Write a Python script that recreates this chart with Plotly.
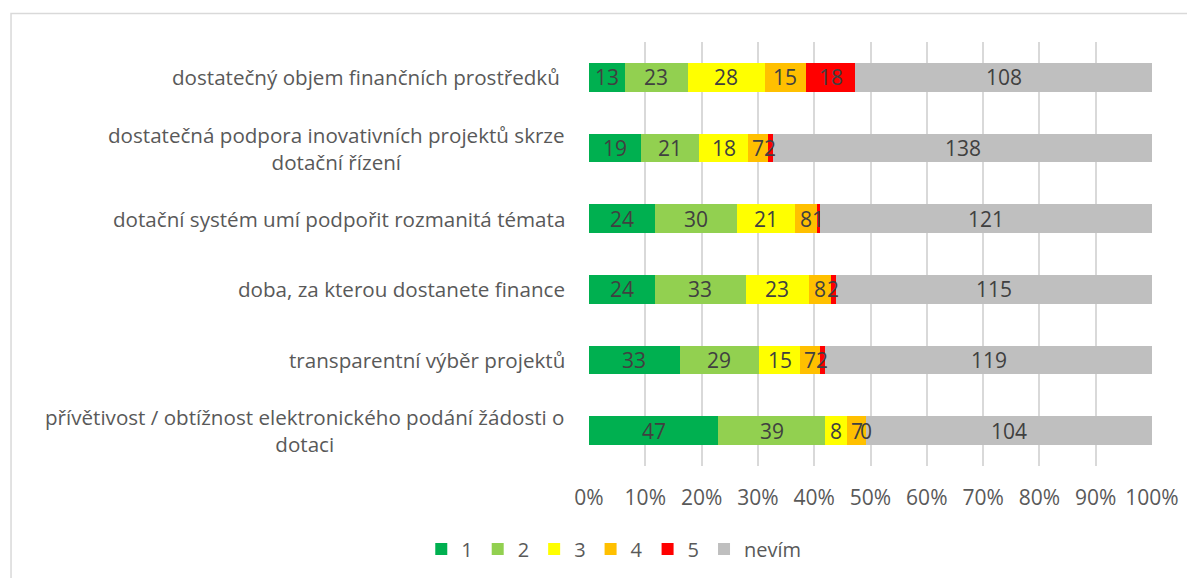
import plotly.graph_objects as go

categories = [
    "dostatečný objem finančních prostředků\u00a0",
    "dostatečná podpora inovativních projektů skrze<br>dotační řízení",
    "dotační systém umí podpořit rozmanitá témata",
    "doba, za kterou dostanete finance",
    "transparentní výběr projektů",
    "přívětivost / obtížnost elektronického podání žádosti o<br>dotaci",
]
series_names = ["1", "2", "3", "4", "5", "nevím"]
s1 = [13, 19, 24, 24, 33, 47]
s2 = [23, 21, 30, 33, 29, 39]
s3 = [28, 18, 21, 23, 15, 8]
s4 = [15, 7, 8, 8, 7, 7]
s5 = [18, 2, 1, 2, 2, 0]
s6 = [108, 138, 121, 115, 119, 104]
colors = ["#00B050", "#92D050", "#FFFF00", "#FFC000", "#FF0000", "#BFBFBF"]

series = [s1, s2, s3, s4, s5, s6]
totals = [sum(v) for v in zip(*series)]

FONT = "Open Sans"
TXT = "#595959"

fig = go.Figure()
annotations = []
cum = [0.0] * len(categories)
for name, vals, col in zip(series_names, series, colors):
    pct = [v / t * 100 for v, t in zip(vals, totals)]
    fig.add_trace(go.Bar(
        y=categories, x=pct, orientation="h", name=name,
        marker=dict(color=col, line=dict(width=0)),
        hoverinfo="skip",
    ))
    for i, (v, p) in enumerate(zip(vals, pct)):
        annotations.append(dict(
            x=cum[i] + p / 2, y=categories[i], xref="x", yref="y",
            text=str(v), showarrow=False,
            font=dict(family=FONT, size=21, color="#404040"),
        ))
        cum[i] += p

for c in categories:
    annotations.append(dict(
        x=0, y=c, xref="paper", yref="y", xanchor="right", xshift=-22,
        text=c, showarrow=False, align="center",
        font=dict(family=FONT, size=20.6, color=TXT),
    ))

fig.update_layout(
    width=1195, height=578,
    margin=dict(l=581, r=51, t=33.5, b=119.5),
    paper_bgcolor="white", plot_bgcolor="white",
    barmode="stack", bargap=0.59,
    font=dict(family=FONT, size=20, color=TXT),
    showlegend=True,
    legend=dict(orientation="h", x=0.044, xanchor="center", y=-0.196, yanchor="middle",
                font=dict(family=FONT, size=20, color=TXT), traceorder="normal"),
    annotations=annotations,
    shapes=[dict(type="rect", xref="paper", yref="paper",
                 x0=-1.0266, x1=1.09, y0=1.067, y1=-0.35,
                 line=dict(color="#D9D9D9", width=1.5), fillcolor="rgba(0,0,0,0)", layer="below")],
)
fig.update_xaxes(range=[0, 100], dtick=10, ticksuffix="%", showgrid=True,
                 gridcolor="#D9D9D9", gridwidth=1.5, zeroline=False,
                 showline=False, ticks="outside", ticklen=13, tickcolor="rgba(0,0,0,0)",
                 tickfont=dict(family=FONT, size=21, color=TXT), fixedrange=True)
fig.update_yaxes(autorange="reversed", showticklabels=False, showgrid=False,
                 zeroline=False, showline=False, fixedrange=True)

fig.write_html("out.html")
